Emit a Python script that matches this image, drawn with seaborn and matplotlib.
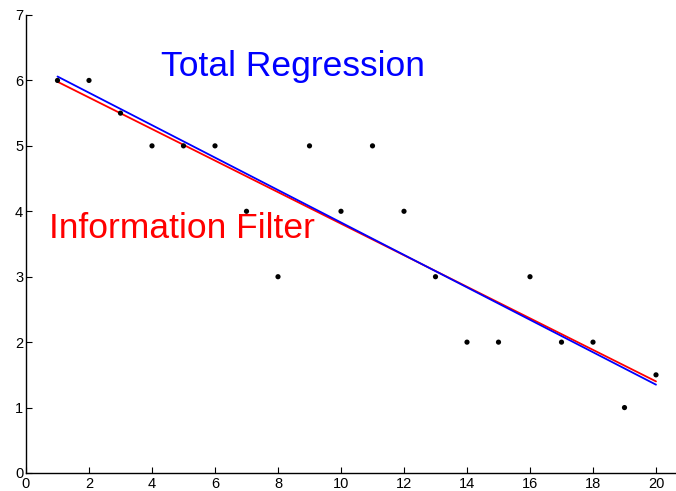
import matplotlib
matplotlib.use("Agg")
import matplotlib.pyplot as plt
import seaborn as sns
import pandas as pd

# Observations
x_obs = [1, 2, 3, 4, 5, 6, 7, 8, 9, 10, 11, 12, 13, 14, 15, 16, 17, 18, 19, 20]
y_obs = [6, 6, 5.5, 5, 5, 5, 4, 3, 5, 4, 5, 4, 3, 2, 2, 3, 2, 2, 1, 1.5]

# Fitted lines (endpoints at x = 1 and x = 20)
fit_x = [1, 20]
info_filter_y = [5.98, 1.40]
total_regression_y = [6.06, 1.35]

sns.set_theme(style="ticks")
plt.rcParams["font.family"] = ["Liberation Sans", "DejaVu Sans"]

fig = plt.figure(figsize=(6.76, 4.91), dpi=100)
ax = fig.add_axes([26 / 676, 18 / 491, 650 / 676, 458 / 491])

obs = pd.DataFrame({"x": x_obs, "y": y_obs})
sns.scatterplot(data=obs, x="x", y="y", color="black", s=14, edgecolor="none", ax=ax, zorder=3)

lines = pd.DataFrame({
    "x": fit_x * 2,
    "y": info_filter_y + total_regression_y,
    "method": ["Information Filter"] * 2 + ["Total Regression"] * 2,
})
sns.lineplot(data=lines, x="x", y="y", hue="method",
             palette={"Information Filter": "#ff0000", "Total Regression": "#0000ff"},
             linewidth=1.3, legend=False, ax=ax, zorder=2)

ax.text(4.27, 6.07, "Total Regression", color="#0000ff", fontsize=25.5)
ax.text(0.72, 3.59, "Information Filter", color="#ff0000", fontsize=25.5)

ax.set_xlim(0, 650 / 31.5)
ax.set_ylim(0, 7)
ax.set_xticks(range(0, 21, 2))
ax.set_yticks(range(0, 8))
ax.set_xlabel("")
ax.set_ylabel("")
sns.despine(ax=ax)
for side in ("left", "bottom"):
    ax.spines[side].set_color("black")
    ax.spines[side].set_linewidth(1.0)
ax.tick_params(direction="in", length=4.5, width=0.8, colors="black",
               labelsize=10.5, pad=2)
ax.tick_params(axis="x", pad=3)

fig.savefig("out.png", dpi=100, facecolor="white")
